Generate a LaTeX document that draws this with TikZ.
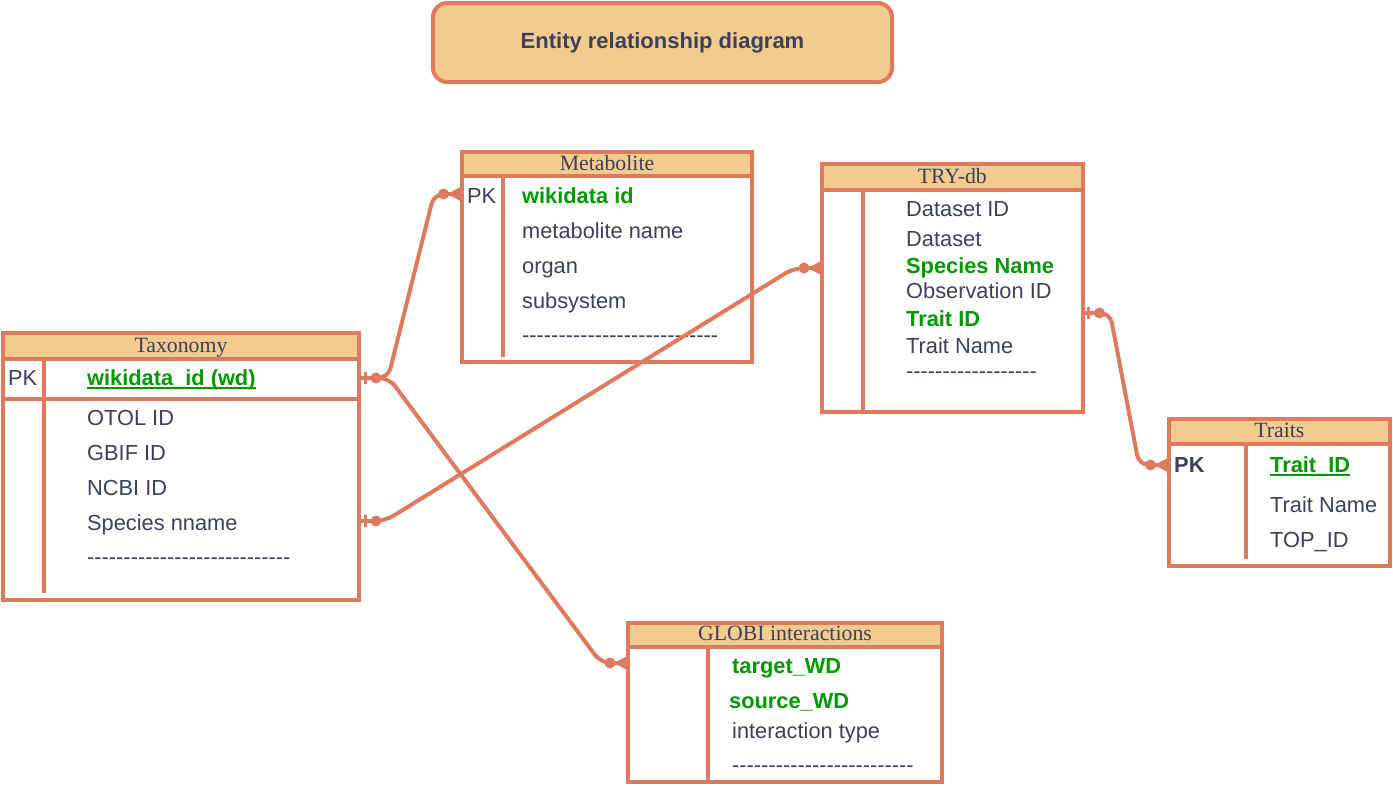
\documentclass[tikz,border=0pt]{standalone}
\usepackage{fontspec}
\setmainfont{Liberation Serif}
\setsansfont{Liberation Sans}
\usetikzlibrary{calc}
\definecolor{erline}{HTML}{E07A5F}
\definecolor{erfill}{HTML}{F2CC8F}
\definecolor{ertext}{HTML}{3D405B}
\definecolor{ergreen}{HTML}{009900}
\newcommand\hyrun[1]{\foreach \k in {1,...,#1}{-\kern0pt}}
\tikzset{
  erbox/.style={draw=erline, line width=4pt, outer sep=0pt, inner sep=0pt, anchor=north west},
  erhdr/.style={fill=erfill},
  errule/.style={draw=erline, line width=4pt},
  hdrtxt/.style={anchor=base, inner sep=0pt, text=ertext, font=\rmfamily\fontsize{21.8}{24}\selectfont},
  fld/.style={anchor=base west, inner sep=0pt, text=ertext, font=\sffamily\fontsize{21.8}{24}\selectfont},
  keyfld/.style={anchor=base west, inner sep=0pt, text=ergreen, font=\sffamily\bfseries\fontsize{21.8}{24}\selectfont},
  pkbold/.style={anchor=base west, inner sep=0pt, text=ertext, font=\sffamily\bfseries\fontsize{21.8}{24}\selectfont},
  uline/.style={draw=ergreen, line width=2pt},
  titlebox/.style={draw=erline, fill=erfill, line width=4pt, rounded corners=14pt, minimum width=459pt, minimum height=79pt, inner sep=0pt, outer sep=0pt, text=ertext, font=\sffamily\bfseries\fontsize{22}{26}\selectfont},
  conn/.style={draw=erline, line width=4pt, rounded corners=10pt},
  zeroone/.pic={\draw[erline, line width=3pt] (6,-6) -- (6,6); \fill[erline] (17,0) circle (5.5);},
  zeromany/.pic={\fill[erline] (-18,0) circle (5.5); \fill[erline] (-14,0) -- (0,-7.5) -- (0,7.5) -- cycle; \draw[erline, line width=3pt] (-14,0) -- (0,0);}
}
\begin{document}
\begin{tikzpicture}[x=1pt,y=-1pt]
\useasboundingbox (0,0) rectangle (1393,785);
\fill[white] (0,0) rectangle (1393,785);

% title
\node[titlebox] (title) at (662.5,42.5) {Entity relationship diagram};

% ---------- Taxonomy ----------
\fill[erhdr] (3,333) rectangle (359,358.5);
\node[erbox, minimum width=356pt, minimum height=267pt] (tax) at (3,333) {};
\draw[errule] (3,358.5) -- (359,358.5);
\draw[errule] (3,398.5) -- (359,398.5);
\draw[errule] (43.5,358.5) -- (43.5,593);
\node[hdrtxt] (taxh) at (181,352) {Taxonomy};
\node[fld] (taxpk) at (8,385) {PK};
\node[keyfld] (taxwd) at (87,385) {wikidata\_id (wd)};
\draw[uline] ([yshift=-3pt]taxwd.base west) -- ([yshift=-3pt]taxwd.base east);
\node[fld] (taxotol) at (87,425) {OTOL ID};
\node[fld] (taxgbif) at (87,460) {GBIF ID};
\node[fld] (taxncbi) at (87,495) {NCBI ID};
\node[fld] (taxsp) at (87,530) {Species nname};
\node[fld] (taxdash) at (87,564) {\hyrun{28}};

% ---------- Metabolite ----------
\fill[erhdr] (461.5,152) rectangle (752,176);
\node[erbox, minimum width=290.5pt, minimum height=209.5pt] (met) at (461.5,152) {};
\draw[errule] (461.5,176) -- (752,176);
\draw[errule] (502.7,176) -- (502.7,357);
\node[hdrtxt] (meth) at (607,170) {Metabolite};
\node[fld] (metpk) at (467,203) {PK};
\node[keyfld] (metwd) at (522,203) {wikidata id};
\node[fld] (metname) at (522,238) {metabolite name};
\node[fld] (metorg) at (522,273) {organ};
\node[fld] (metsub) at (522,308) {subsystem};
\node[fld] (metdash) at (522,342) {\hyrun{27}};

% ---------- TRY-db ----------
\fill[erhdr] (822,163.5) rectangle (1082.5,190);
\node[erbox, minimum width=260.5pt, minimum height=248pt] (try) at (822,163.5) {};
\draw[errule] (822,190) -- (1082.5,190);
\draw[errule] (863,190) -- (863,411.5);
\node[hdrtxt] (tryh) at (952.3,183.3) {TRY-db};
\node[fld] (tryds) at (906,216) {Dataset ID};
\node[fld] (trydset) at (906,246) {Dataset};
\node[keyfld] (trysp) at (906,273) {Species Name};
\node[fld] (tryobs) at (906,298) {Observation ID};
\node[keyfld] (trytid) at (906,326) {Trait ID};
\node[fld] (trytn) at (906,353) {Trait Name};
\node[fld] (trydash) at (906,378) {\hyrun{18}};

% ---------- Traits ----------
\fill[erhdr] (1168.5,418.5) rectangle (1390,444);
\node[erbox, minimum width=221.5pt, minimum height=147.5pt] (tr) at (1168.5,418.5) {};
\draw[errule] (1168.5,444) -- (1390,444);
\draw[errule] (1245.7,444) -- (1245.7,559);
\node[hdrtxt] (trh) at (1279.3,437.7) {Traits};
\node[pkbold] (trpk) at (1174,472) {PK};
\node[keyfld] (trid) at (1270,472) {Trait\_ID};
\draw[uline] ([yshift=-3pt]trid.base west) -- ([yshift=-3pt]trid.base east);
\node[fld] (trname) at (1270,512) {Trait Name};
\node[fld] (trtop) at (1270,547) {TOP\_ID};

% ---------- GLOBI ----------
\fill[erhdr] (628,622.5) rectangle (942,647);
\node[erbox, minimum width=314pt, minimum height=159pt] (gl) at (628,622.5) {};
\draw[errule] (628,647) -- (942,647);
\draw[errule] (708,647) -- (708,781.5);
\node[hdrtxt] (glh) at (785,640) {GLOBI interactions};
\node[keyfld] (gltarget) at (732,673) {target\_WD};
\node[keyfld] (glsource) at (729,708) {source\_WD};
\node[fld] (gltype) at (732,738) {interaction type};
\node[fld] (gldash) at (732,772) {\hyrun{25}};

% ---------- ports ----------
\coordinate (taxWD) at ($(tax.north east)+(0,45)$);
\coordinate (taxSP) at ($(tax.north east)+(0,188)$);
\coordinate (metPK) at ($(met.north west)+(0,42)$);
\coordinate (tryIn) at ($(try.north west)+(0,104.5)$);
\coordinate (tryOut) at ($(try.north east)+(0,149.5)$);
\coordinate (trPK) at ($(tr.north west)+(0,46.5)$);
\coordinate (glPK) at ($(gl.north west)+(0,40.5)$);

% ---------- connectors ----------
\draw[conn] (taxWD) -- ($(taxWD)+(29,0)$) -- ($(metPK)+(-27.5,0)$) -- (metPK);
\draw[conn] (taxWD) -- ($(taxWD)+(30,0)$) -- ($(glPK)+(-27,0)$) -- (glPK);
\draw[conn] (taxSP) -- ($(taxSP)+(26,0)$) -- ($(tryIn)+(-28,0)$) -- (tryIn);
\draw[conn] (tryOut) -- ($(tryOut)+(27.5,0)$) -- ($(trPK)+(-29.5,0)$) -- (trPK);

\pic at (taxWD) {zeroone};
\pic at (taxSP) {zeroone};
\pic at (tryOut) {zeroone};
\pic at (metPK) {zeromany};
\pic at (glPK) {zeromany};
\pic at (tryIn) {zeromany};
\pic at (trPK) {zeromany};
\end{tikzpicture}
\end{document}
